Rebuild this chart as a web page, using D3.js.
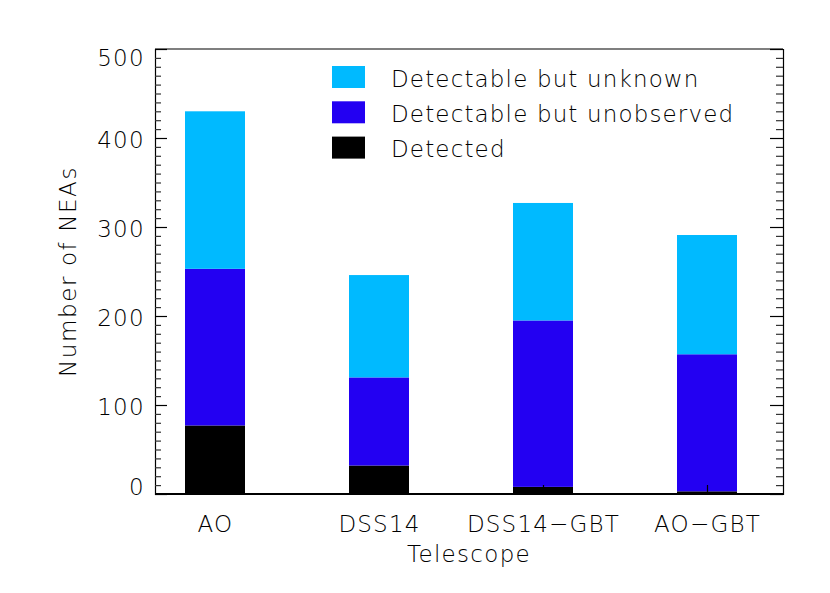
<!DOCTYPE html>
<html>
<head>
<meta charset="utf-8">
<script src="https://cdn.jsdelivr.net/npm/d3@7"></script>
<style>
  html, body { margin: 0; padding: 0; background: #fff; }
  svg text { font-family: "DejaVu Sans", sans-serif; font-weight: 200; fill: #000; }
</style>
</head>
<body>
<svg id="chart" width="830" height="593"></svg>
<script>
// ---- data ----
const categories = ["AO", "DSS14", "DSS14\u2212GBT", "AO\u2212GBT"];
const detected = [77, 32, 8, 3];
const unobserved = [176, 99, 187, 154];
const unknown = [177, 115, 132, 134];
const seriesNames = ["Detectable but unknown", "Detectable but unobserved", "Detected"];
const yTicks = [0, 100, 200, 300, 400, 500];
const xTitle = "Telescope";
const yTitle = "Number of NEAs";

// ---- layout ----
const M = { left: 155, right: 783, top: 49, bottom: 494 };
const colors = { unknown: "#00BAFF", unobserved: "#2300F2", detected: "#000000" };
const fontSize = 23;

const svg = d3.select("#chart");

const y = d3.scaleLinear().domain([0, 500]).range([M.bottom, M.top]);
const x = d3.scalePoint().domain(categories).range([215, 707]).padding(0);
const barW = 60;

// stacked data
const rows = categories.map((c, i) => ({ cat: c, detected: detected[i], unobserved: unobserved[i], unknown: unknown[i] }));
const stacked = d3.stack().keys(["detected", "unobserved", "unknown"])(rows);

const g = svg.append("g");
stacked.forEach(layer => {
  g.selectAll(null).data(layer).enter().append("rect")
    .attr("x", d => x(d.data.cat) - barW / 2)
    .attr("width", barW)
    .attr("y", d => y(d[1]))
    .attr("height", d => y(d[0]) - y(d[1]))
    .attr("fill", colors[layer.key]);
});

// frame top line
svg.append("line").attr("x1", M.left).attr("x2", M.right).attr("y1", M.top).attr("y2", M.top)
  .attr("stroke", "#000").attr("stroke-width", 1.2);

// minor tick values
const minor = d3.range(0, 501, 10).filter(v => v % 100 !== 0);

// left axis major
const leftAxis = svg.append("g").attr("transform", `translate(${M.left},0)`)
  .call(d3.axisLeft(y).tickValues(yTicks).tickSize(-12).tickPadding(10).tickFormat(d3.format("d")));
leftAxis.select(".domain").attr("stroke-width", 1.2);
leftAxis.selectAll(".tick line").attr("stroke-width", 1.2);
leftAxis.selectAll(".tick text")
  .style("font-size", fontSize + "px")
  .style("letter-spacing", "1.3px")
  .attr("dy", d => d === 0 ? "0.02em" : d === 500 ? "0.72em" : "0.4em");
svg.append("g").attr("transform", `translate(${M.left},0)`)
  .call(d3.axisLeft(y).tickValues(minor).tickSize(-6).tickFormat(""))
  .call(s => s.select(".domain").remove())
  .selectAll(".tick line").attr("stroke", "#333").attr("stroke-width", 1.2);

// right axis
const rightAxis = svg.append("g").attr("transform", `translate(${M.right},0)`)
  .call(d3.axisRight(y).tickValues(yTicks).tickSize(-13).tickFormat(""));
rightAxis.select(".domain").attr("stroke-width", 1.2);
rightAxis.selectAll(".tick line").attr("stroke-width", 1.2);
svg.append("g").attr("transform", `translate(${M.right},0)`)
  .call(d3.axisRight(y).tickValues(minor).tickSize(-7).tickFormat(""))
  .call(s => s.select(".domain").remove())
  .selectAll(".tick line").attr("stroke", "#333").attr("stroke-width", 1.2);

// bottom axis
const xAxisG = svg.append("g").attr("transform", `translate(0,${M.bottom})`)
  .call(d3.axisBottom(x).tickSize(-9).tickPadding(21));
xAxisG.select(".domain").attr("d", `M${M.left},0H${M.right}`).attr("stroke-width", 1.8);
xAxisG.selectAll(".tick line").attr("stroke-width", 1.2);
xAxisG.selectAll(".tick text").style("font-size", fontSize + "px")
  .style("letter-spacing", "1.2px").attr("dy", "0.72em");

// axis titles
svg.append("text").attr("x", (M.left + M.right) / 2).attr("y", 562)
  .attr("text-anchor", "middle").style("font-size", fontSize + "px")
  .style("letter-spacing", "1.3px").text(xTitle);
svg.append("text").attr("transform", `translate(76,${(M.top + M.bottom) / 2}) rotate(-90)`)
  .attr("text-anchor", "middle").style("font-size", fontSize + "px")
  .style("letter-spacing", "1.6px").text(yTitle);

// legend
const legendKeys = ["unknown", "unobserved", "detected"];
const lg = svg.append("g");
legendKeys.forEach((k, i) => {
  const yy = 66 + i * 35.3;
  lg.append("rect").attr("x", 332).attr("y", yy).attr("width", 33).attr("height", 22).attr("fill", colors[k]);
  lg.append("text").attr("x", 391).attr("y", yy + 20.7).style("font-size", fontSize + "px")
    .style("letter-spacing", "1.15px").text(seriesNames[i]);
});
</script>
</body>
</html>
